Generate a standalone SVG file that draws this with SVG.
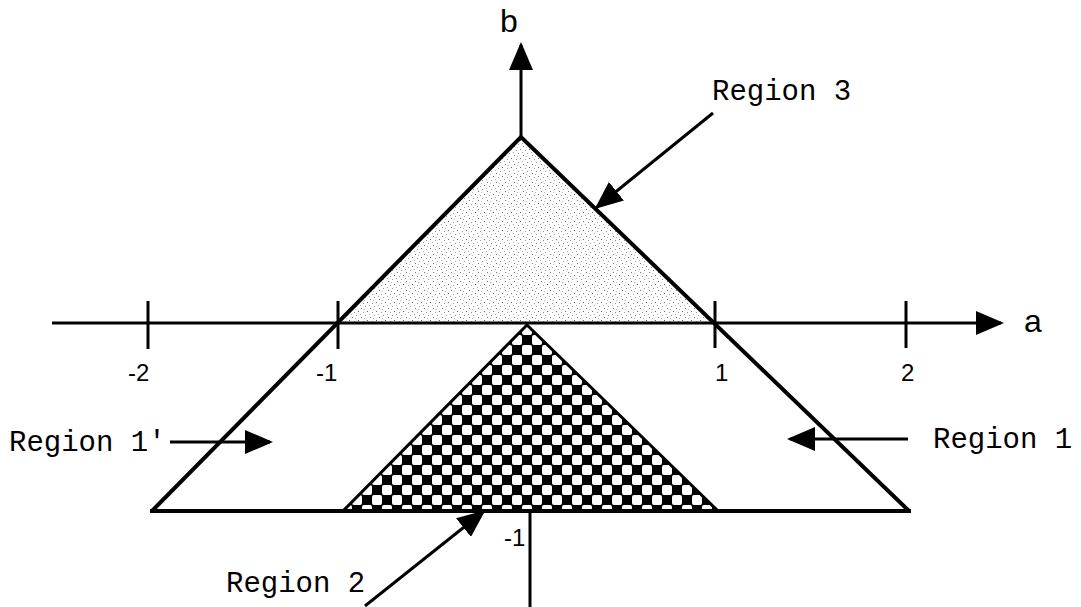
<svg xmlns="http://www.w3.org/2000/svg" width="1081" height="607" viewBox="0 0 1081 607">
  <style>
    .axis { stroke: #000; stroke-width: 3; fill: none; }
    .edge { stroke: #000; stroke-width: 4; fill: none; stroke-linejoin: miter; }
    .tick { stroke: #000; stroke-width: 3; }
    .conn { stroke: #000; stroke-width: 3; fill: none; }
    .lbl { font-family: "Liberation Mono", "Courier New", monospace; font-size: 29px; fill: #000; }
    .num { font-family: "Liberation Sans", Arial, sans-serif; font-size: 24px; fill: #000; }
    .ax { font-family: "Liberation Sans", Arial, sans-serif; font-size: 32px; fill: #000; }
  </style>
  <defs>
    <marker id="arrow" markerUnits="userSpaceOnUse" markerWidth="28" markerHeight="24" refX="25" refY="12" orient="auto">
      <path d="M0,0 L28,12 L0,24 z" fill="#000"/>
    </marker>
    <pattern id="stipple" patternUnits="userSpaceOnUse" width="9" height="9">
      <rect width="9" height="9" fill="#fff"/>
      <rect x="1" y="2" width="1" height="1" fill="#777"/>
      <rect x="5" y="0" width="1" height="1" fill="#999"/>
      <rect x="7" y="5" width="1" height="1" fill="#666"/>
      <rect x="3" y="6" width="1" height="1" fill="#999"/>
      <rect x="4" y="3" width="1" height="1" fill="#bbb"/>
      <rect x="0" y="8" width="1" height="1" fill="#aaa"/>
    </pattern>
    <pattern id="checker" patternUnits="userSpaceOnUse" x="522" y="325" width="20" height="20">
      <rect width="20" height="20" fill="#000"/>
      <rect x="0" y="0" width="10" height="10" rx="2" fill="#fff"/>
      <rect x="10" y="10" width="10" height="10" rx="2" fill="#fff"/>
    </pattern>
  </defs>

  <rect width="1081" height="607" fill="#fff"/>

  <g id="region3">
    <polygon points="521,137 340,323 713,323" fill="url(#stipple)"/>
  </g>
  <g id="region2">
    <polygon points="527,325 343,511 718,511" fill="url(#checker)" stroke="#000" stroke-width="3"/>
  </g>
  <g id="outer-triangle">
    <polyline class="edge" points="152,511 521,137 909,511"/>
    <line class="edge" x1="150" y1="511" x2="911" y2="511"/>
  </g>

  <g id="axes">
    <line class="axis" x1="52" y1="323" x2="1001" y2="323" marker-end="url(#arrow)"/>
    <line class="axis" x1="521" y1="137" x2="521" y2="45" marker-end="url(#arrow)"/>
    <line class="axis" x1="530" y1="512" x2="530" y2="607"/>
    <line class="tick" x1="148" y1="301" x2="148" y2="349"/>
    <line class="tick" x1="338" y1="301" x2="338" y2="349"/>
    <line class="tick" x1="715" y1="301" x2="715" y2="348"/>
    <line class="tick" x1="906" y1="301" x2="906" y2="348"/>
    <text class="ax" x="500" y="32">b</text>
    <text class="ax" x="1024" y="332">a</text>
    <text class="num" x="128" y="381">-2</text>
    <text class="num" x="316" y="381">-1</text>
    <text class="num" x="715" y="381">1</text>
    <text class="num" x="901" y="381">2</text>
    <text class="num" x="504" y="546">-1</text>
  </g>

  <g id="connectors">
    <line class="conn" x1="713" y1="113" x2="597" y2="207" marker-end="url(#arrow)"/>
    <line class="conn" x1="170" y1="442" x2="270" y2="442" marker-end="url(#arrow)"/>
    <line class="conn" x1="908" y1="439" x2="790" y2="439" marker-end="url(#arrow)"/>
    <line class="conn" x1="365" y1="606" x2="483" y2="512" marker-end="url(#arrow)"/>
  </g>

  <g id="labels">
    <text class="lbl" x="712" y="100">Region 3</text>
    <text class="lbl" x="9" y="451">Region 1'</text>
    <text class="lbl" x="933" y="448">Region 1</text>
    <text class="lbl" x="226" y="592">Region 2</text>
  </g>
</svg>
